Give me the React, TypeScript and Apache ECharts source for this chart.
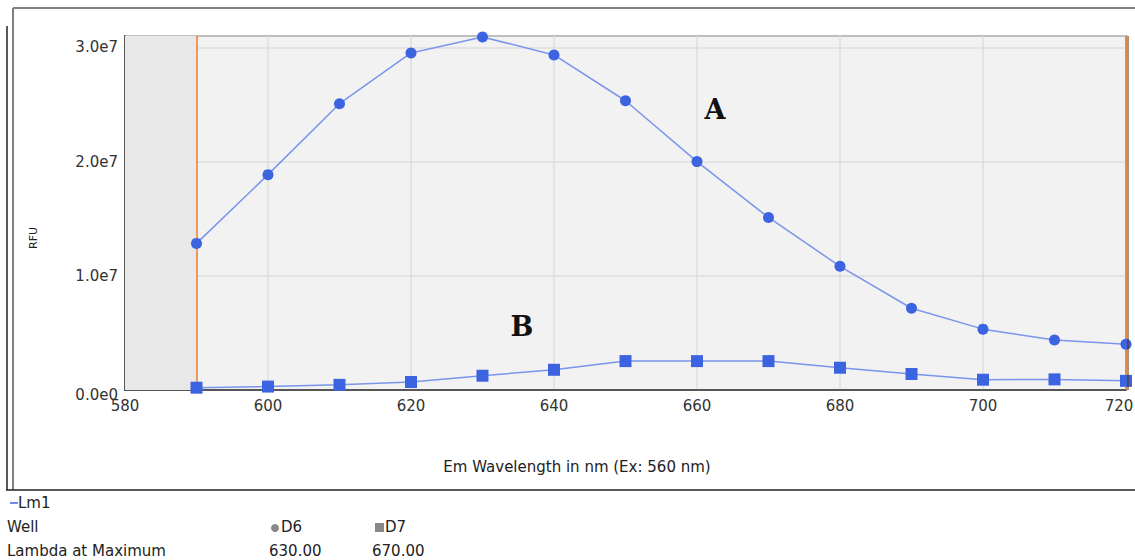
import React, { useEffect, useRef } from "react";
import * as echarts from "echarts";

const wavelengths = [590, 600, 610, 620, 630, 640, 650, 660, 670, 680, 690, 700, 710, 720];
const seriesA = [1.284e7, 1.886e7, 2.507e7, 2.952e7, 3.092e7, 2.934e7, 2.533e7, 2.0e7, 1.511e7, 1.083e7, 0.716e7, 0.533e7, 0.437e7, 0.4e7];
const seriesB = [0.02e7, 0.03e7, 0.045e7, 0.07e7, 0.125e7, 0.177e7, 0.253e7, 0.253e7, 0.253e7, 0.195e7, 0.14e7, 0.09e7, 0.093e7, 0.08e7];
const xTicks = [580, 600, 620, 640, 660, 680, 700, 720];
const wells = ["D6", "D7"];
const lambdaMax = ["630.00", "670.00"];

const FONT = "DejaVu Sans";
const LINE = "#7a95ec";
const MARK = "#3d64e0";

export default function App() {
  const ref = useRef<HTMLDivElement>(null);
  useEffect(() => {
    document.body.style.margin = "0";
    const chart = echarts.init(ref.current!, null, { renderer: "svg" });
    const txt = (text: string, x: number, y: number, extra: any = {}) => ({
      type: "text",
      x,
      y,
      style: {
        text,
        fill: "#222",
        font: `15px "${FONT}"`,
        verticalAlign: "middle",
        align: "left",
        ...extra,
      },
    });
    chart.setOption({
      animation: false,
      backgroundColor: "#ffffff",
      grid: {
        left: 125,
        top: 36,
        width: 1001,
        height: 354,
        outerBoundsMode: "none",
        containLabel: false,
        show: true,
        backgroundColor: "#f2f2f2",
        borderColor: "#333",
        borderWidth: 1.5,
      },
      xAxis: {
        type: "value",
        min: 580,
        max: 720,
        interval: 20,
        axisLine: { show: true, lineStyle: { color: "#333", width: 1.5 } },
        axisTick: { show: false },
        axisLabel: {
          color: "#333",
          fontFamily: FONT,
          fontSize: 15,
          margin: 8,
          formatter: (v: number) =>
            v === 720 ? "{r|720}" : xTicks.includes(v) ? String(v) : "",
          rich: {
            r: { color: "#333", fontFamily: FONT, fontSize: 15, padding: [0, 14, 0, 0] },
          },
        },
        splitLine: { show: true, lineStyle: { color: "#dedede", width: 1.5 } },
      },
      yAxis: {
        type: "value",
        min: 0,
        max: 3.1e7,
        interval: 1e7,
        axisLine: { show: true, lineStyle: { color: "#333", width: 1.5 } },
        axisTick: { show: false },
        axisLabel: {
          color: "#333",
          fontFamily: FONT,
          fontSize: 15,
          margin: 7,
          showMaxLabel: false,
          formatter: (v: number) => (v === 0 ? "{z|0.0e0}" : (v / 1e7).toFixed(1) + "e7"),
          rich: {
            z: { color: "#333", fontFamily: FONT, fontSize: 15, padding: [9, 0, 0, 0] },
          },
        },
        splitLine: { show: true, lineStyle: { color: "#dedede", width: 1.5 } },
      },
      series: [
        {
          type: "line",
          name: wells[0],
          data: wavelengths.map((w, i) => [w, seriesA[i]]),
          symbol: "circle",
          symbolSize: 11,
          lineStyle: { color: LINE, width: 1.5 },
          itemStyle: { color: MARK },
          z: 5,
          markArea: {
            silent: true,
            itemStyle: { color: "#e8e8e8" },
            data: [[{ xAxis: 580 }, { xAxis: 590 }]],
          },
          markLine: {
            silent: true,
            symbol: "none",
            label: { show: false },
            lineStyle: { color: "#f07828", width: 1.5, type: "solid" },
            data: [{ xAxis: 590 }, { xAxis: 720 }],
          },
        },
        {
          type: "line",
          name: wells[1],
          data: wavelengths.map((w, i) => [w, seriesB[i]]),
          symbol: "rect",
          symbolSize: 12,
          lineStyle: { color: LINE, width: 1.5 },
          itemStyle: { color: MARK },
          z: 5,
        },
      ],
      graphic: [
        { type: "line", shape: { x1: 13, y1: 8, x2: 1135, y2: 8 }, style: { stroke: "#808080", lineWidth: 2 } },
        { type: "line", shape: { x1: 13, y1: 8, x2: 13, y2: 490 }, style: { stroke: "#808080", lineWidth: 2 } },
        { type: "line", shape: { x1: 7, y1: 26, x2: 7, y2: 490 }, style: { stroke: "#222", lineWidth: 1.5 } },
        { type: "line", shape: { x1: 6, y1: 490, x2: 1135, y2: 490 }, style: { stroke: "#222", lineWidth: 1.5 } },
        { type: "line", shape: { x1: 1128, y1: 36, x2: 1128, y2: 390 }, style: { stroke: "#5a2000", lineWidth: 1 }, z: 10 },
        { ...txt("RFU", 33, 238, { font: `11px "${FONT}"`, align: "center" }), rotation: Math.PI / 2 },
        txt("Em Wavelength in nm (Ex: 560 nm)", 577, 467, { align: "center" }),
        txt("A", 715, 109, { font: 'bold 27px "DejaVu Serif"', fill: "#111", align: "center" }),
        txt("B", 522, 326, { font: 'bold 27px "DejaVu Serif"', fill: "#111", align: "center" }),
        { type: "line", shape: { x1: 10, y1: 503, x2: 18, y2: 503 }, style: { stroke: MARK, lineWidth: 1.5 } },
        txt("Lm1", 18, 503),
        txt("Well", 7, 527),
        txt("Lambda at Maximum", 7, 551),
        { type: "circle", shape: { cx: 275, cy: 528, r: 4 }, style: { fill: "#888" } },
        txt(wells[0], 281, 527),
        { type: "rect", shape: { x: 375, y: 523, width: 9, height: 9 }, style: { fill: "#888" } },
        txt(wells[1], 385, 527),
        txt(lambdaMax[0], 269, 551),
        txt(lambdaMax[1], 372, 551),
      ],
    });
    return () => chart.dispose();
  }, []);
  return <div ref={ref} style={{ width: 1135, height: 560 }} />;
}
